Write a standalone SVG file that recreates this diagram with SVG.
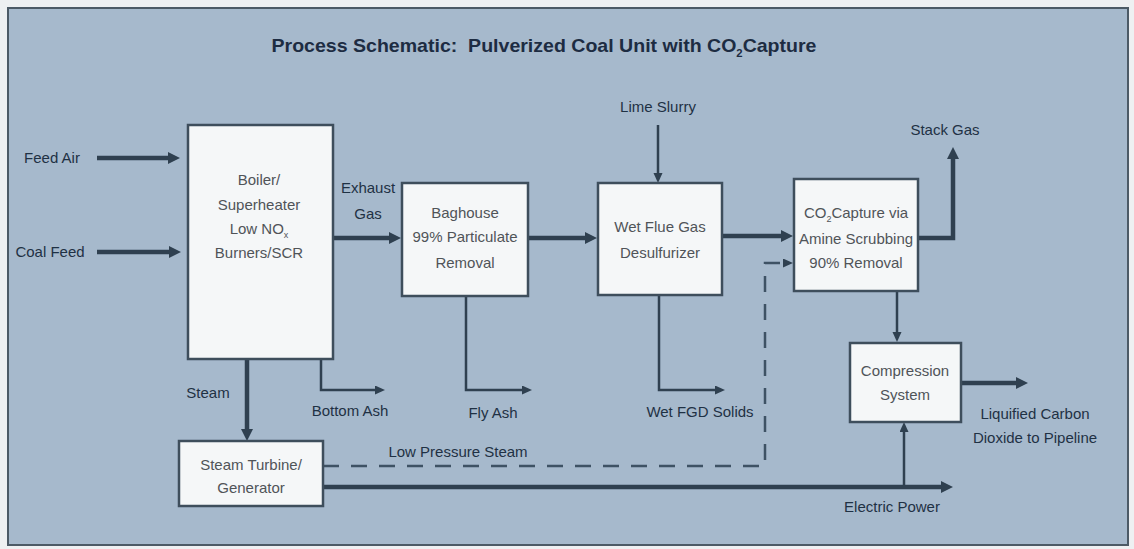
<svg xmlns="http://www.w3.org/2000/svg" width="1134" height="549" viewBox="0 0 1134 549">
<style>
.lbl{font-family:"Liberation Sans",Arial,sans-serif;font-size:15px;fill:#1f3144;text-anchor:middle}
.bt{font-family:"Liberation Sans",Arial,sans-serif;font-size:15px;fill:#505458;text-anchor:middle}
.box{fill:#f5f7f8;stroke:#3e4e5c;stroke-width:2.5}
.thick{fill:none;stroke:#2f4050;stroke-width:4.5}
.thin{fill:none;stroke:#2f4050;stroke-width:2.5}
.dash{fill:none;stroke:#3e5264;stroke-width:2.5;stroke-dasharray:16 12}
</style>
<defs>
<marker id="ah" markerUnits="userSpaceOnUse" markerWidth="13" markerHeight="13" refX="4" refY="6" orient="auto"><path d="M0,0 L12,6 L0,12 z" fill="#2f4050"/></marker>
<marker id="as" markerUnits="userSpaceOnUse" markerWidth="11" markerHeight="10" refX="3" refY="4.5" orient="auto"><path d="M0,0 L10,4.5 L0,9 z" fill="#2f4050"/></marker>
</defs>
<rect x="0" y="0" width="1134" height="549" fill="#eef0f2"/>
<rect x="8" y="8" width="1120" height="537" fill="#a6b9cc" stroke="#4c5a66" stroke-width="2"/>
<text x="544" y="52" font-family="'Liberation Sans',Arial,sans-serif" font-size="19" font-weight="bold" fill="#1d2c42" text-anchor="middle" textLength="545" lengthAdjust="spacingAndGlyphs">Process Schematic:&#160; Pulverized Coal Unit with CO<tspan font-size="11" dy="5">2</tspan><tspan dy="-5">Capture</tspan></text>

<g id="connectors">
<path class="thick" d="M97,158 H172" marker-end="url(#ah)"/>
<path class="thick" d="M97,252 H173" marker-end="url(#ah)"/>
<path class="thick" d="M333,238 H393" marker-end="url(#ah)"/>
<path class="thick" d="M528,238 H589" marker-end="url(#ah)"/>
<path class="thick" d="M722,236 H785" marker-end="url(#ah)"/>
<path class="thick" d="M918,238 H953 V155" marker-end="url(#ah)"/>
<path class="thick" d="M247,359 V433" marker-end="url(#ah)"/>
<path class="thick" d="M961,383 H1020" marker-end="url(#ah)"/>
<path class="thick" d="M323,487 H945" marker-end="url(#ah)"/>
<path class="thin" d="M658,125 V176" marker-end="url(#as)"/>
<path class="thin" d="M321,359 V390 H378" marker-end="url(#as)"/>
<path class="thin" d="M466,296 V390 H525" marker-end="url(#as)"/>
<path class="thin" d="M659,295 V390 H718" marker-end="url(#as)"/>
<path class="thin" d="M897,291 V335" marker-end="url(#as)"/>
<path class="thin" d="M904,487 V429" marker-end="url(#as)"/>
<path class="dash" d="M323,466 H765 V263 H786" marker-end="url(#as)"/>
</g>

<g id="labels">
<text class="lbl" x="52" y="163">Feed Air</text>
<text class="lbl" x="50" y="257">Coal Feed</text>
<text class="lbl" x="368" y="193">Exhaust</text>
<text class="lbl" x="368" y="219">Gas</text>
<text class="lbl" x="658" y="112">Lime Slurry</text>
<text class="lbl" x="945" y="135">Stack Gas</text>
<text class="lbl" x="208" y="398">Steam</text>
<text class="lbl" x="350" y="416">Bottom Ash</text>
<text class="lbl" x="493" y="418">Fly Ash</text>
<text class="lbl" x="700" y="417">Wet FGD Solids</text>
<text class="lbl" x="458" y="457">Low Pressure Steam</text>
<text class="lbl" x="1035" y="419">Liquified Carbon</text>
<text class="lbl" x="1035" y="443">Dioxide to Pipeline</text>
<text class="lbl" x="892" y="512">Electric Power</text>
</g>

<g id="boiler">
<rect class="box" x="188" y="125" width="145" height="234"/>
<text class="bt" x="259" y="185">Boiler/</text>
<text class="bt" x="259" y="210">Superheater</text>
<text class="bt" x="259" y="234">Low NO<tspan font-size="9" dy="4">x</tspan></text>
<text class="bt" x="259" y="258">Burners/SCR</text>
</g>
<g id="baghouse">
<rect class="box" x="402" y="183" width="126" height="113"/>
<text class="bt" x="465" y="218">Baghouse</text>
<text class="bt" x="465" y="242">99% Particulate</text>
<text class="bt" x="465" y="268">Removal</text>
</g>
<g id="fgd">
<rect class="box" x="598" y="183" width="124" height="112"/>
<text class="bt" x="660" y="232">Wet Flue Gas</text>
<text class="bt" x="660" y="258">Desulfurizer</text>
</g>
<g id="co2capture">
<rect class="box" x="794" y="179" width="124" height="112"/>
<text class="bt" x="856" y="218">CO<tspan font-size="9" dy="4">2</tspan><tspan dy="-4">Capture via</tspan></text>
<text class="bt" x="856" y="244">Amine Scrubbing</text>
<text class="bt" x="856" y="268">90% Removal</text>
</g>
<g id="compression">
<rect class="box" x="850" y="343" width="111" height="79"/>
<text class="bt" x="905" y="376">Compression</text>
<text class="bt" x="905" y="400">System</text>
</g>
<g id="turbine">
<rect class="box" x="179" y="441" width="144" height="65"/>
<text class="bt" x="251" y="470">Steam Turbine/</text>
<text class="bt" x="251" y="493">Generator</text>
</g>
</svg>
